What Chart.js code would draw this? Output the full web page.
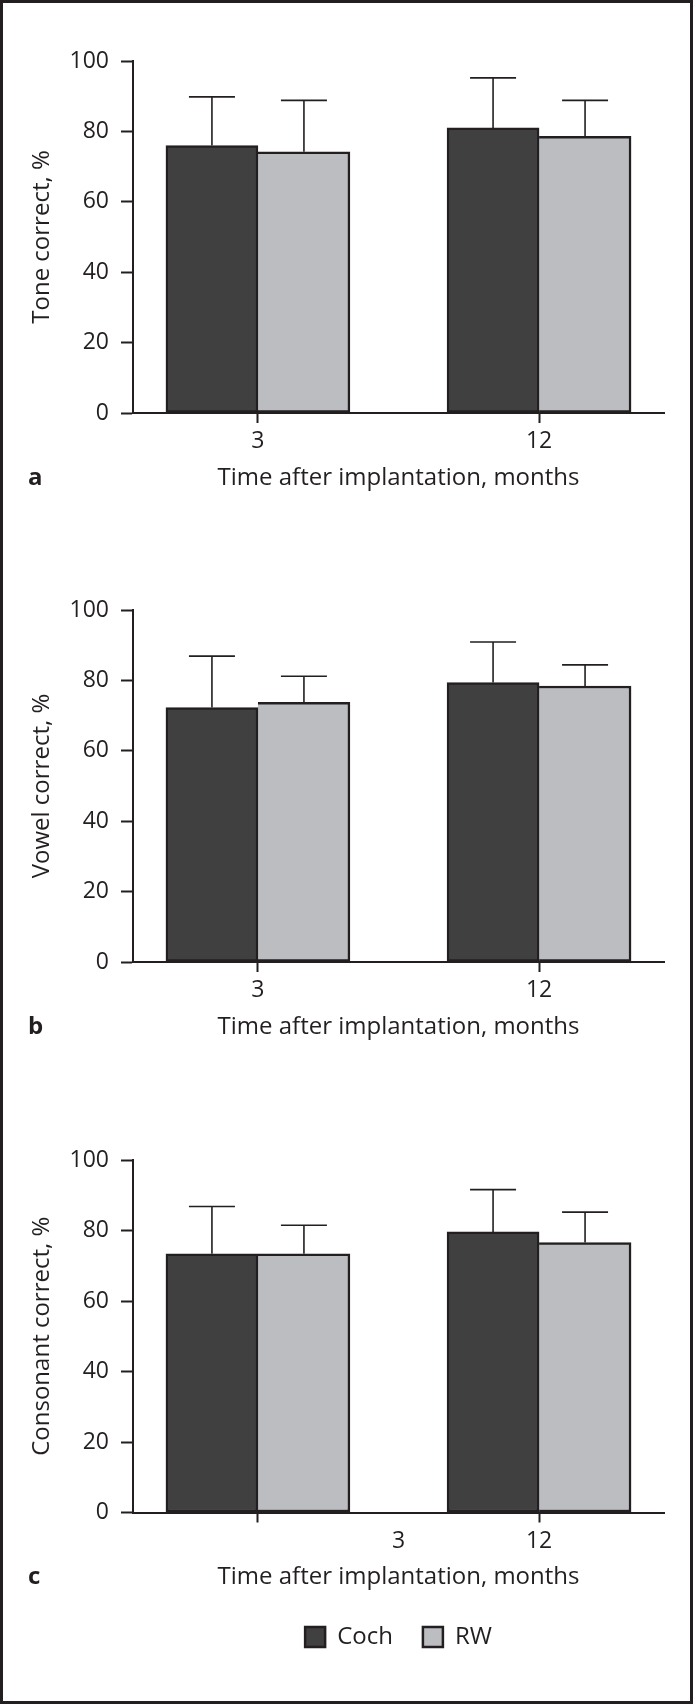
<!DOCTYPE html>
<html>
<head>
<meta charset="utf-8">
<script src="https://cdn.jsdelivr.net/npm/chart.js@4.4.1/dist/chart.umd.min.js"></script>
<style>
  body { margin: 0; background: #fff; }
  #page { position: relative; width: 693px; height: 1704px; overflow: hidden; background: #fff; }
  #frame { position: absolute; left: 0; top: 0; width: 693px; height: 1704px; box-sizing: border-box; border: 3px solid #231f20; pointer-events: none; }
  .panel { position: absolute; left: 0; }
</style>
</head>
<body>
<div id="page">
  <div class="panel" style="top:0px"><canvas id="toneChart" width="693" height="549"></canvas></div>
  <div class="panel" style="top:549px"><canvas id="vowelChart" width="693" height="549"></canvas></div>
  <div class="panel" style="top:1099px"><canvas id="consonantChart" width="693" height="605"></canvas></div>
  <div id="frame"></div>
</div>
<script>
// months after implantation (x positions)
var months = [3, 12];

// tone
var toneCoch = [76, 81];
var toneCochSD = [13.8, 14.2];
var toneRW = [74.2, 78.6];
var toneRWSD = [14.6, 10.2];

// vowel
var vowelCoch = [72.3, 79.4];
var vowelCochSD = [14.6, 11.5];
var vowelRW = [73.8, 78.4];
var vowelRWSD = [7.4, 6.0];

// consonant
var consCoch = [73.4, 79.6];
var consCochSD = [13.4, 12.0];
var consRW = [73.4, 76.6];
var consRWSD = [8.1, 8.6];

// x tick labels (panel c has its "3" label set off between the ticks)
var tickValsAB = [3, 12];
var tickLabelsAB = ['3', '12'];
var tickMarksAB = [true, true];
var tickValsC = [3, 7.5, 12];
var tickLabelsC = ['', '3', '12'];
var tickMarksC = [true, false, true];

var ink = '#231f20';
Chart.defaults.font.family = '"Open Sans", sans-serif';
Chart.defaults.color = ink;

var errorBars = {
  id: 'errorBars',
  afterDatasetsDraw: function(chart) {
    var ctx = chart.ctx;
    var yScale = chart.scales.y;
    chart.data.datasets.forEach(function(ds, i) {
      var meta = chart.getDatasetMeta(i);
      meta.data.forEach(function(bar, j) {
        var top = yScale.getPixelForValue(ds.data[j].y + ds.errors[j]);
        var half = bar.width / 4;
        ctx.save();
        ctx.strokeStyle = ink;
        ctx.lineWidth = 1.6;
        ctx.beginPath();
        ctx.moveTo(bar.x, bar.y);
        ctx.lineTo(bar.x, top);
        ctx.moveTo(bar.x - half, top);
        ctx.lineTo(bar.x + half, top);
        ctx.stroke();
        ctx.restore();
      });
    });
  }
};

function makePanel(id, letter, yTitle, coch, cochSD, rw, rwSD, tickVals, tickLabels, tickMarks, opts) {
  var letterPlugin = {
    id: 'panelLetter',
    afterDraw: function(chart) {
      var ctx = chart.ctx;
      var x = chart.scales.x;
      ctx.save();
      ctx.font = 'bold 24px "Open Sans", sans-serif';
      ctx.fillStyle = ink;
      ctx.textAlign = 'left';
      ctx.textBaseline = 'middle';
      ctx.fillText(letter, 28, x.bottom - opts.titlePad - 14.4);
      ctx.restore();
    }
  };

  return new Chart(document.getElementById(id), {
    type: 'bar',
    data: {
      datasets: [{
        label: 'Coch',
        data: months.map(function(m, i) { return { x: m, y: coch[i] }; }),
        errors: cochSD,
        backgroundColor: '#404040',
        borderColor: ink,
        borderWidth: 2.5,
        borderSkipped: false,
        barThickness: 92
      }, {
        label: 'RW',
        data: months.map(function(m, i) { return { x: m, y: rw[i] }; }),
        errors: rwSD,
        backgroundColor: '#bcbdc0',
        borderColor: ink,
        borderWidth: 2.5,
        borderSkipped: 'left',
        barThickness: 92
      }]
    },
    options: {
      responsive: false,
      animation: false,
      layout: { padding: { left: 0, right: 29, top: 61, bottom: opts.padBottom } },
      scales: {
        x: {
          type: 'linear',
          min: -1,
          max: 16,
          offset: false,
          afterBuildTicks: function(scale) {
            scale.ticks = tickVals.map(function(v) { return { value: v }; });
          },
          afterFit: function(scale) { scale.height = opts.axisHeight; },
          ticks: {
            autoSkip: false,
            maxRotation: 0,
            padding: 5,
            font: { size: 23 },
            color: ink,
            callback: function(v, i) { return tickLabels[i]; }
          },
          grid: {
            offset: false,
            drawOnChartArea: false,
            drawTicks: true,
            tickLength: 10,
            tickWidth: 2,
            tickColor: function(c) { return tickMarks[c.index] ? ink : 'rgba(0,0,0,0)'; }
          },
          border: { color: ink, width: 2 },
          title: {
            display: true,
            text: 'Time after implantation, months',
            font: { size: 24 },
            color: ink,
            padding: { top: 0, bottom: opts.titlePad }
          }
        },
        y: {
          min: 0,
          max: 100,
          afterFit: function(scale) { scale.width = 133; },
          ticks: { stepSize: 20, padding: 12, font: { size: 23 }, color: ink },
          grid: { drawOnChartArea: false, tickLength: 12, tickWidth: 2, tickColor: ink },
          border: { color: ink, width: 2 },
          title: {
            display: true,
            text: yTitle,
            font: { size: 24 },
            color: ink,
            padding: { top: 27.6, bottom: 0 }
          }
        }
      },
      plugins: {
        tooltip: { enabled: false },
        legend: {
          display: opts.legend,
          position: 'bottom',
          fullSize: false,
          labels: { boxWidth: 20, boxHeight: 20, padding: 30, font: { size: 24 }, color: ink }
        }
      }
    },
    plugins: [errorBars, letterPlugin]
  });
}

makePanel('toneChart', 'a', 'Tone correct, %', toneCoch, toneCochSD, toneRW, toneRWSD,
  tickValsAB, tickLabelsAB, tickMarksAB, { padBottom: 46, axisHeight: 90, titlePad: 10.5, legend: false });
makePanel('vowelChart', 'b', 'Vowel correct, %', vowelCoch, vowelCochSD, vowelRW, vowelRWSD,
  tickValsAB, tickLabelsAB, tickMarksAB, { padBottom: 46, axisHeight: 90, titlePad: 10.5, legend: false });
makePanel('consonantChart', 'c', 'Consonant correct, %', consCoch, consCochSD, consRW, consRWSD,
  tickValsC, tickLabelsC, tickMarksC, { padBottom: 45, axisHeight: 82.5, titlePad: 3, legend: true });
</script>
</body>
</html>
